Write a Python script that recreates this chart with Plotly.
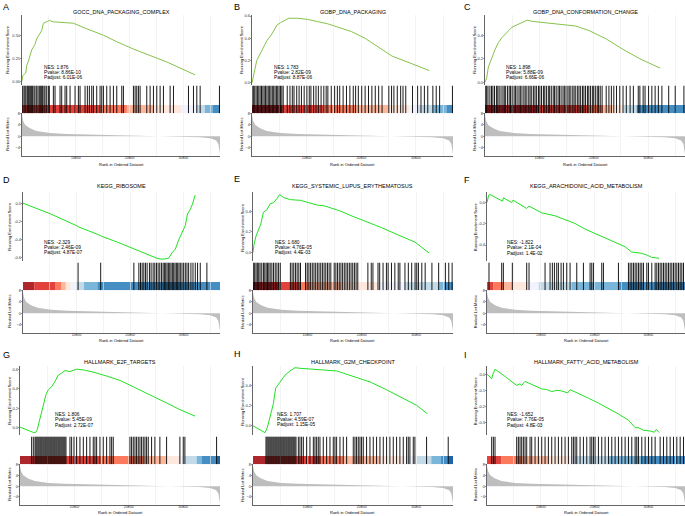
import plotly.graph_objects as go

FONT = "Liberation Sans, Arial, sans-serif"
W, H = 685, 516

# ---------------- data ----------------
panel_letters = ["A", "B", "C", "D", "E", "F", "G", "H", "I"]
panel_titles = ["GOCC_DNA_PACKAGING_COMPLEX", "GOBP_DNA_PACKAGING", "GOBP_DNA_CONFORMATION_CHANGE",
                "KEGG_RIBOSOME", "KEGG_SYSTEMIC_LUPUS_ERYTHEMATOSUS", "KEGG_ARACHIDONIC_ACID_METABOLISM",
                "HALLMARK_E2F_TARGETS", "HALLMARK_G2M_CHECKPOINT", "HALLMARK_FATTY_ACID_METABOLISM"]
nes_text = ["1.876", "1.783", "1.898", "-2.329", "1.680", "-1.822", "1.806", "1.707", "-1.652"]
pvalue_text = ["8.86E-10", "2.82E-09", "5.88E-09", "2.46E-09", "4.76E-05", "2.1E-04", "5.45E-09", "4.59E-07", "7.76E-05"]
padjust_text = ["6.01E-06", "8.87E-06", "6.66E-06", "4.87E-07", "4.4E-03", "1.4E-02", "2.72E-07", "1.15E-05", "4.8E-03"]

# rank axis (in thousands of genes)
rank_ticks = [10, 20, 30]
rank_ticktext = ["10000", "20000", "30000"]
rank_grid_minor = [5, 15, 25, 35]
rank_max = 36.8

# ranked list metric (shared)
metric_rank = [0, 0.2, 0.6, 1.5, 2.7, 5.2, 8.3, 14.5, 20.6, 26.9, 30.6, 33.0, 35.0, 36.1, 36.5, 36.7, 36.8]
metric_value = [7.4, 5.5, 4.0, 2.8, 1.9, 1.2, 0.85, 0.5, 0.25, 0.0, -0.15, -0.35, -0.7, -1.5, -2.7, -4.5, -6.3]
metric_ticks = [-4, 0, 4, 8]
metric_range = [-7.0, 8.1]

# running enrichment score curves
es_x_A = [0, 0.1, 0.7, 0.87, 1.2, 1.49, 1.8, 2.11, 2.4, 2.73, 3.35, 3.66, 3.97, 4.59, 5.08, 5.83, 7.06, 8.3, 9.54, 12.02, 15.12, 17.6, 20.7, 23.8, 26.9, 32.16]
es_y_A = [0.0, 0.06, 0.09, 0.17, 0.22, 0.28, 0.34, 0.37, 0.40, 0.46, 0.52, 0.55, 0.63, 0.65, 0.66, 0.645, 0.64, 0.64, 0.63, 0.57, 0.50, 0.43, 0.35, 0.28, 0.21, 0.07]
es_x_B = [0, 0.37, 0.87, 1.8, 2.73, 3.66, 4.59, 5.2, 6.13, 6.75, 8.3, 10.16, 12.02, 13.88, 15.74, 18.22, 20.7, 23.18, 25.65, 29.37, 32.47]
es_y_B = [0.0, 0.09, 0.20, 0.29, 0.38, 0.44, 0.52, 0.54, 0.56, 0.58, 0.58, 0.57, 0.55, 0.53, 0.50, 0.46, 0.40, 0.32, 0.24, 0.17, 0.11]
es_x_C = [0, 0.31, 0.62, 1.24, 1.86, 2.48, 3.1, 4.34, 4.96, 5.89, 6.82, 7.75, 8.68, 10.54, 13.01, 14.87, 16.73, 19.21, 22.3, 25.41, 28.5, 32.22]
es_y_C = [0.0, 0.036, 0.13, 0.215, 0.28, 0.34, 0.38, 0.44, 0.47, 0.49, 0.51, 0.53, 0.52, 0.51, 0.50, 0.49, 0.48, 0.44, 0.37, 0.28, 0.20, 0.12]
es_x_D = [0, 5.2, 10.04, 10.29, 14.37, 14.62, 17.6, 20.7, 23.18, 25.04, 25.96, 27.2, 27.82, 28.44, 29.06, 29.68, 30.3, 30.73, 31.23, 31.66, 32.16]
es_y_D = [0.0, -0.12, -0.25, -0.26, -0.355, -0.365, -0.43, -0.505, -0.56, -0.61, -0.62, -0.61, -0.55, -0.51, -0.41, -0.32, -0.25, -0.12, -0.07, -0.01, 0.09]
es_x_E = [0, 0.19, 0.56, 0.99, 1.43, 1.92, 2.54, 3.16, 3.78, 4.4, 4.9, 5.64, 6.88, 8.74, 9.98, 11.84, 13.07, 14.31, 16.17, 18.03, 20.51, 23.61, 26.71, 29.8, 32.4]
es_y_E = [0.0, 0.077, 0.16, 0.227, 0.277, 0.393, 0.417, 0.477, 0.487, 0.527, 0.567, 0.537, 0.517, 0.51, 0.49, 0.463, 0.457, 0.437, 0.403, 0.36, 0.31, 0.243, 0.17, 0.10, -0.007]
es_x_F = [0, 0.31, 0.56, 2.91, 3.04, 4.59, 4.83, 7.37, 7.81, 10.16, 12.64, 14.5, 16.36, 18.22, 20.08, 21.94, 23.8, 25.65, 26.9, 28.75, 29.68, 30.61, 31.98]
es_y_F = [0.0, 0.069, 0.075, 0.0125, 0.044, 0.0, 0.022, -0.056, -0.034, -0.097, -0.125, -0.16, -0.197, -0.25, -0.29, -0.33, -0.37, -0.416, -0.466, -0.478, -0.494, -0.516, -0.525]
es_x_G = [0, 1.23, 2.45, 2.88, 3.19, 3.56, 3.99, 4.42, 4.78, 5.21, 5.83, 6.44, 7.05, 7.67, 8.28, 9.2, 10.43, 11.65, 13.49, 15.95, 18.4, 20.85, 23.92, 26.99, 29.44, 32.2]
es_y_G = [0.007, -0.024, -0.047, -0.047, -0.017, 0.068, 0.17, 0.27, 0.34, 0.39, 0.42, 0.475, 0.54, 0.56, 0.586, 0.576, 0.60, 0.593, 0.57, 0.53, 0.485, 0.42, 0.34, 0.254, 0.186, 0.12]
es_x_H = [0, 1.17, 2.21, 2.64, 3.13, 3.74, 4.17, 4.66, 5.27, 5.89, 6.81, 7.73, 8.65, 10.49, 12.94, 15.4, 16.93, 19.08, 21.53, 24.59, 27.66, 30.11, 32.08]
es_y_H = [0.0, -0.034, -0.068, -0.017, 0.10, 0.22, 0.376, 0.417, 0.46, 0.506, 0.547, 0.58, 0.574, 0.564, 0.557, 0.547, 0.52, 0.485, 0.438, 0.359, 0.274, 0.205, 0.12]
es_x_I = [0, 0.56, 0.87, 1.12, 1.49, 2.42, 3.66, 4.9, 5.52, 6.13, 6.44, 7.06, 7.99, 9.23, 10.16, 11.09, 12.02, 12.95, 13.88, 15.0, 15.43, 16.36, 17.6, 18.84, 20.7, 22.56, 24.42, 26.28, 27.51, 28.26, 29.06, 30.3, 31.11, 31.48, 31.98]
es_y_I = [0.0, -0.015, -0.027, 0.002, 0.031, 0.010, -0.021, -0.048, -0.069, -0.059, -0.069, -0.044, -0.057, -0.078, -0.09, -0.094, -0.107, -0.099, -0.103, -0.115, -0.096, -0.109, -0.126, -0.147, -0.178, -0.21, -0.245, -0.283, -0.329, -0.331, -0.346, -0.35, -0.358, -0.34, -0.36]

# y axis ticks / ranges of the running score panels
es_ticks = [[0, 0.25, 0.5], [0, 0.2, 0.4, 0.6], [0, 0.2, 0.4], [-0.6, -0.4, -0.2, 0.0], [0, 0.2, 0.4],
            [-0.4, -0.2, 0.0], [0, 0.2, 0.4, 0.6], [0, 0.2, 0.4], [-0.3, -0.2, -0.1, 0.0]]
es_ticktext = [["0.00", "0.25", "0.50"], ["0.0", "0.2", "0.4", "0.6"], ["0.0", "0.2", "0.4"],
               ["-0.6", "-0.4", "-0.2", "0.0"], ["0.0", "0.2", "0.4"], ["-0.4", "-0.2", "0.0"],
               ["0.0", "0.2", "0.4", "0.6"], ["0.0", "0.2", "0.4"], ["-0.3", "-0.2", "-0.1", "0.0"]]
es_ranges = [[-0.035, 0.72], [-0.015, 0.61], [-0.02, 0.575], [-0.645, 0.125], [-0.09, 0.593],
             [-0.555, 0.10], [-0.078, 0.634], [-0.096, 0.598], [-0.378, 0.052]]

# gene set hit positions (thousands)
hits_A = [0.12, 0.37, 0.56, 0.74, 0.99, 1.18, 1.36, 1.61, 1.8, 1.98, 2.23, 2.42, 2.73, 2.98, 3.22, 3.47, 3.66, 3.84, 4.09, 4.28, 4.59, 4.9, 5.08, 5.83, 6.14, 7.07, 7.38, 8.0, 8.31, 8.93, 9.86, 10.48, 10.79, 11.72, 12.15, 12.52, 12.96, 13.27, 13.89, 14.51, 14.82, 15.13, 15.75, 16.37, 16.99, 17.61, 18.54, 18.85, 20.71, 21.02, 21.33, 21.64, 21.95, 23.19, 23.81, 24.43, 25.05, 25.67, 26.29, 27.53, 28.15, 30.94, 31.87, 32.49, 33.11, 36.7]
hits_B = [0.02, 0.25, 0.5, 0.75, 0.99, 1.24, 1.49, 1.74, 1.99, 2.23, 2.48, 2.73, 2.98, 3.23, 3.47, 3.72, 3.97, 4.22, 4.47, 4.71, 4.96, 5.21, 5.46, 5.71, 6.45, 6.95, 7.38, 7.69, 8.19, 8.62, 9.05, 9.55, 10.05, 10.48, 10.79, 11.29, 11.72, 12.15, 12.65, 13.15, 13.58, 13.89, 14.51, 15.13, 15.63, 16.06, 16.68, 17.3, 17.92, 18.54, 18.97, 19.47, 20.09, 20.71, 21.33, 21.95, 22.57, 23.19, 23.81, 25.05, 25.55, 25.98, 26.6, 27.22, 27.65, 28.15, 29.39, 30.32, 30.94, 31.56, 32.18, 33.11, 33.73, 34.35, 36.7]
hits_C = [0.05, 0.3, 0.55, 0.9, 1.2, 1.45, 1.75, 2.1, 2.35, 2.6, 2.95, 3.3, 3.55, 3.8, 4.15, 4.45, 4.7, 5.0, 5.35, 5.6, 5.9, 6.25, 6.5, 6.8, 7.15, 7.4, 7.7, 8.05, 8.3, 8.6, 8.95, 9.2, 9.5, 9.85, 10.1, 10.4, 10.75, 11.0, 11.3, 11.65, 11.9, 12.2, 12.55, 12.8, 13.1, 13.45, 13.7, 14.0, 14.35, 14.6, 14.9, 15.25, 15.5, 15.8, 16.15, 16.4, 16.7, 17.05, 17.3, 17.6, 17.95, 18.2, 18.5, 18.85, 19.1, 19.4, 19.75, 20.0, 20.3, 20.65, 20.9, 21.2, 21.55, 22.3, 22.8, 23.25, 23.7, 24.2, 24.8, 25.4, 26.0, 26.7, 27.3, 28.2, 28.5, 29.1, 29.45, 30.1, 30.7, 31.3, 31.9, 32.55, 33.8, 35.0, 36.6]
hits_D = [10.29, 14.51, 20.71, 21.64, 21.95, 22.26, 22.57, 22.88, 23.19, 23.62, 23.93, 24.31, 24.62, 24.93, 25.24, 25.55, 25.86, 26.17, 26.41, 26.66, 26.91, 27.16, 27.41, 27.65, 27.9, 28.15, 28.4, 28.65, 28.89, 29.14, 29.39, 29.7, 30.01, 30.32, 30.63, 30.94, 31.37, 31.75, 32.18, 32.61, 33.11, 34.35]
hits_E = [0.06, 0.31, 0.56, 0.8, 1.05, 1.3, 1.61, 1.92, 2.17, 2.42, 2.66, 2.91, 3.16, 3.47, 3.78, 4.09, 4.4, 4.71, 5.02, 6.88, 7.19, 7.5, 7.81, 8.12, 8.43, 8.74, 9.67, 9.98, 10.29, 10.6, 10.91, 11.22, 11.53, 11.84, 12.15, 12.46, 12.77, 13.08, 13.39, 13.7, 14.01, 14.32, 14.94, 15.25, 15.56, 15.87, 16.18, 16.49, 16.8, 17.11, 17.42, 17.73, 18.04, 18.35, 18.66, 18.97, 19.28, 21.14, 21.76, 22.07, 23.0, 23.31, 23.93, 24.55, 24.86, 25.48, 26.1, 26.72, 27.03, 27.96, 28.58, 29.2, 29.82, 30.13, 30.44, 31.06, 31.68, 32.92, 34.16, 35.4, 36.02, 36.64]
hits_F = [0.37, 2.73, 3.04, 4.71, 7.38, 7.81, 10.79, 11.72, 12.15, 12.53, 12.96, 13.27, 13.77, 14.2, 14.82, 15.44, 16.68, 17.92, 19.16, 19.47, 19.78, 21.33, 21.64, 24.43, 26.29, 26.6, 26.91, 27.22, 27.53, 27.84, 28.15, 28.46, 28.77, 29.08, 29.7, 30.01, 30.63, 31.25, 31.56, 31.87, 32.18, 32.49, 32.8, 33.11, 33.42, 33.73, 34.04, 34.35, 34.66, 34.97, 35.28, 35.59, 35.9, 36.21, 36.52]
hits_G = [2.14, 2.45, 2.76, 2.94, 3.12, 3.31, 3.49, 3.68, 3.86, 4.04, 4.23, 4.41, 4.6, 4.78, 4.96, 5.15, 5.33, 5.52, 5.7, 5.88, 6.07, 6.25, 6.43, 6.62, 6.8, 6.99, 7.17, 7.35, 7.54, 7.72, 7.91, 8.09, 8.27, 8.46, 9.19, 9.5, 9.93, 10.42, 11.03, 11.65, 12.26, 12.87, 13.48, 13.79, 14.1, 14.71, 15.32, 15.94, 16.55, 16.86, 17.16, 20.23, 20.53, 20.84, 21.15, 21.45, 21.76, 22.07, 22.37, 22.68, 22.99, 23.29, 23.6, 24.21, 24.82, 25.74, 26.97, 29.42, 30.04, 30.34, 36.17]
hits_H = [2.39, 2.57, 2.76, 2.94, 3.13, 3.31, 3.49, 3.68, 3.86, 4.05, 4.23, 4.41, 4.6, 4.78, 4.97, 5.15, 5.33, 5.52, 5.7, 5.88, 6.07, 6.25, 6.44, 6.62, 6.8, 6.99, 7.17, 7.36, 7.54, 7.72, 7.91, 8.34, 8.64, 8.95, 9.26, 9.87, 10.48, 11.1, 11.4, 11.71, 12.01, 12.32, 12.93, 13.55, 14.16, 14.77, 15.08, 15.39, 16.0, 16.61, 17.23, 18.45, 18.76, 19.06, 19.37, 19.68, 19.98, 20.29, 20.9, 21.52, 22.13, 22.74, 23.36, 23.97, 24.58, 25.19, 25.81, 26.42, 27.03, 27.65, 28.26, 28.57, 28.87, 29.49, 29.79, 31.94, 35.92]
hits_I = [0.87, 1.18, 1.49, 5.52, 5.83, 6.14, 6.45, 6.76, 7.07, 7.38, 8.0, 8.31, 8.93, 9.55, 10.17, 10.79, 11.41, 12.03, 12.65, 13.27, 13.89, 14.51, 15.13, 15.75, 16.06, 16.37, 16.68, 17.3, 17.92, 18.54, 19.16, 19.47, 19.78, 20.09, 20.71, 21.33, 21.95, 22.57, 23.19, 23.81, 24.43, 25.05, 25.67, 26.29, 26.91, 27.53, 27.84, 28.15, 28.77, 29.39, 30.01, 30.63, 31.25, 32.18, 32.8, 33.42, 34.04, 34.66, 35.28, 35.9, 36.52]

# rank colour bar: (start rank, colour key)
palette = {"R5": "#A50F15", "R4": "#DE2D26", "R3": "#FB6A4A", "R2": "#FCAE91", "R1": "#FEE5D9",
           "B1": "#EFF3FF", "B2": "#BDD7E7", "B3": "#6BAED6", "B4": "#3182BD", "B5": "#08519C"}
bar_A = [(0, "R4"), (14.5, "R3"), (19.5, "R2"), (24.4, "R1"), (29.7, "B1"), (32.5, "B2"), (34.0, "B3"), (35.5, "B4")]
bar_B = [(0, "R5"), (5.5, "R4"), (13.0, "R3"), (18.9, "R2"), (25.0, "R1"), (28.8, "B1"), (30.5, "B2"), (33.1, "B3"), (35.6, "B4")]
bar_C = [(0, "R5"), (10.0, "R4"), (19.0, "R3"), (21.7, "R2"), (23.5, "R1"), (25.5, "B2"), (27.9, "B4")]
bar_D = [(0, "R5"), (2.1, "R4"), (6.1, "R3"), (7.1, "R2"), (8.0, "R1"), (8.9, "B1"), (9.9, "B2"), (11.4, "B3"), (13.9, "B4")]
bar_E = [(0, "R5"), (4.9, "R4"), (8.7, "R3"), (10.6, "R2"), (16.2, "R1"), (23.0, "B1"), (28.0, "B2"), (34.2, "B3"), (35.3, "B4")]
bar_F = [(0, "R4"), (1.2, "R3"), (3.0, "R2"), (4.9, "R1"), (7.7, "B1"), (9.6, "B2"), (15.7, "B3"), (24.4, "B4")]
bar_G = [(0, "R5"), (2.45, "R4"), (14.7, "R3"), (22.7, "R2"), (26.9, "R1"), (29.4, "B1"), (30.3, "B2"), (32.5, "B3"), (33.4, "B4"), (36.2, "B5")]
bar_H = [(0, "R5"), (2.5, "R4"), (12.5, "R3"), (16.6, "R2"), (23.4, "R1"), (27.6, "B1"), (30.1, "B2"), (32.8, "B3"), (34.6, "B4"), (35.9, "B5")]
bar_I = [(0, "R4"), (2.7, "R3"), (6.45, "R2"), (11.4, "R1"), (15.5, "B1"), (16.4, "B2"), (22.6, "B3"), (28.8, "B4")]

es_x = [es_x_A, es_x_B, es_x_C, es_x_D, es_x_E, es_x_F, es_x_G, es_x_H, es_x_I]
es_y = [es_y_A, es_y_B, es_y_C, es_y_D, es_y_E, es_y_F, es_y_G, es_y_H, es_y_I]
hits = [hits_A, hits_B, hits_C, hits_D, hits_E, hits_F, hits_G, hits_H, hits_I]
bars = [bar_A, bar_B, bar_C, bar_D, bar_E, bar_F, bar_G, bar_H, bar_I]
line_colors = ["#86C24A"] * 3 + ["#22E022"] * 6

# ---------------- layout geometry (pixels) ----------------
lefts = [22, 252, 485, 23, 253, 487, 20, 253, 487]
rights = [220, 453, 685]
row_tops = [13, 191, 366]
ranked_bottom = [155, 333, 506]
title_y = [10, 185, 362]
letter_pos = [(1, 5), (232, 5), (462, 5), (1, 179), (232, 178), (462, 179), (1, 355), (232, 354), (462, 355)]
xlabel_y = [163, 340.5, 513.5]
ytitle_off = [14, 10, 10, 13, 10, 11.5, 10, 10, 11.5]
text_pos = [(41.7, 65.7), (271.7, 65.7), (504.3, 65.7), (41.7, 241.7), (272.7, 241.7), (505, 242),
            (53.3, 415), (275, 414.7), (505, 415)]


def fx(px):
    return px / W


def fy(px):
    return 1 - px / H


fig = go.Figure()
layout = dict(width=W, height=H, margin=dict(l=0, r=0, t=0, b=0), paper_bgcolor="white",
              plot_bgcolor="white", showlegend=False, font=dict(family=FONT, color="black"))
shapes = []
annotations = []
GRID = "#EBEBEB"

for p in range(9):
    r, c = divmod(p, 3)
    L, R, T = lefts[p], rights[c], row_tops[r]
    doms = [(T, T + 70), (T + 71, T + 99), (T + 99, ranked_bottom[r])]
    refs = []
    for s in range(3):
        idx = p * 3 + s + 1
        xname = "xaxis" if idx == 1 else f"xaxis{idx}"
        yname = "yaxis" if idx == 1 else f"yaxis{idx}"
        xr = "x" if idx == 1 else f"x{idx}"
        yr = "y" if idx == 1 else f"y{idx}"
        refs.append((xr, yr))
        top, bot = doms[s]
        xa = dict(domain=[fx(L), fx(R)], range=[0, rank_max], anchor=yr, zeroline=False, fixedrange=True,
                  tickvals=rank_ticks, showgrid=True, gridcolor=GRID, gridwidth=0.6,
                  minor=dict(tickvals=rank_grid_minor, showgrid=True, gridcolor=GRID, gridwidth=0.6, ticks=""))
        ya = dict(domain=[fy(bot), fy(top)], anchor=xr, zeroline=False, fixedrange=True)
        if s == 1:
            xa.update(showticklabels=False, ticks="", showline=False)
            ya.update(visible=False, range=[0, 1])
        else:
            ya.update(showline=True, linecolor="black", linewidth=0.6, ticks="outside", ticklen=1.5,
                      tickwidth=0.5, tickcolor="#333333", showgrid=False, ticklabelstandoff=-1,
                      tickfont=dict(size=4, color="#333333"))
            if s == 0:
                xa.update(showticklabels=False, ticks="")
                ya.update(range=es_ranges[p], tickvals=es_ticks[p], ticktext=es_ticktext[p])
            else:
                xa.update(ticktext=rank_ticktext, showticklabels=True, ticks="outside", ticklen=1.5,
                          tickwidth=0.5, tickcolor="#333333", showline=True, linecolor="black",
                          linewidth=0.6, ticklabelstandoff=-3, tickfont=dict(size=3.5, color="#333333"))
                ya.update(range=metric_range, tickvals=metric_ticks)
        layout[xname] = xa
        layout[yname] = ya

    # running enrichment score
    fig.add_trace(go.Scatter(x=es_x[p], y=es_y[p], mode="lines",
                             line=dict(color=line_colors[p], width=1),
                             xaxis=refs[0][0], yaxis=refs[0][1], hoverinfo="skip"))
    # hits
    hx, hy = [], []
    for h in hits[p]:
        hx += [h, h, None]
        hy += [0, 1, None]
    fig.add_trace(go.Scatter(x=hx, y=hy, mode="lines", line=dict(color="black", width=0.9),
                             xaxis=refs[1][0], yaxis=refs[1][1], hoverinfo="skip"))
    # colour bar
    segs = bars[p]
    for i, (start, key) in enumerate(segs):
        end = segs[i + 1][0] if i + 1 < len(segs) else rank_max
        shapes.append(dict(type="rect", xref=refs[1][0], yref=refs[1][1], x0=start, x1=end, y0=0, y1=0.3,
                           fillcolor=palette[key], opacity=0.9, line=dict(width=0), layer="below"))
    # ranked list metric
    fig.add_trace(go.Scatter(x=metric_rank, y=metric_value, mode="lines", fill="tozeroy",
                             fillcolor="#BEBEBE", line=dict(width=0, color="#BEBEBE"),
                             xaxis=refs[2][0], yaxis=refs[2][1], hoverinfo="skip"))

    # texts
    annotations.append(dict(text=panel_titles[p], x=fx((L + R) / 2), y=fy(title_y[r]), xref="paper",
                            yref="paper", showarrow=False, font=dict(size=5.5), xanchor="center", yanchor="middle"))
    lx, ly = letter_pos[p]
    annotations.append(dict(text=panel_letters[p], x=fx(lx), y=fy(ly), xref="paper", yref="paper",
                            showarrow=False, font=dict(size=9), xanchor="left", yanchor="middle"))
    tx, ty = text_pos[p]
    for k, line in enumerate(["NES: " + nes_text[p], "Pvalue: " + pvalue_text[p], "Padjust: " + padjust_text[p]]):
        annotations.append(dict(text=line, x=fx(tx), y=fy(ty + k * 5.3), xref="paper", yref="paper",
                                showarrow=False, font=dict(size=4.8), xanchor="left", yanchor="middle"))
    ytx = L - ytitle_off[p]
    annotations.append(dict(text="Running Enrichment Score", x=fx(ytx), y=fy(T + 35), xref="paper",
                            yref="paper", showarrow=False, textangle=-90, font=dict(size=4),
                            xanchor="center", yanchor="middle"))
    annotations.append(dict(text="Ranked List Metric", x=fx(ytx), y=fy((T + 99 + ranked_bottom[r]) / 2),
                            xref="paper", yref="paper", showarrow=False, textangle=-90, font=dict(size=4),
                            xanchor="center", yanchor="middle"))
    annotations.append(dict(text="Rank in Ordered Dataset", x=fx((L + R) / 2), y=fy(xlabel_y[r]),
                            xref="paper", yref="paper", showarrow=False, font=dict(size=4),
                            xanchor="center", yanchor="middle"))

layout["shapes"] = shapes
layout["annotations"] = annotations
fig.update_layout(**layout)
fig.write_html("out.html", config={"displayModeBar": False, "staticPlot": True},
               post_script="document.body.style.margin='0px';document.body.style.overflow='hidden';")
